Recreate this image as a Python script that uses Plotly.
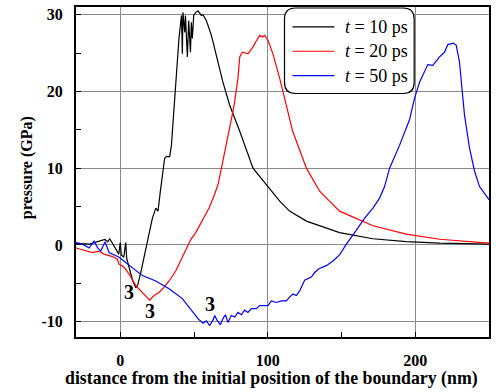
import plotly.graph_objects as go

# ---- data ----
x_10ps = [-30, -20.7, -10.5, -8.5, -7.1, -4.4, -2.4, -1.0, 0.0, 0.7, 2.4, 3.7, 4.4, 6.4, 8.5, 10.5,
          11.9, 13.9, 15.9, 18.2, 21.8, 24.1, 25.6, 27.2, 30.1, 31.3, 33.5, 34.7, 35.8, 37.0, 38.5,
          39.8, 41.5, 42.1, 42.5, 43.7, 44.2, 45.5, 46.4, 47.6, 48.2, 48.9, 49.8, 51.2, 52.7, 55.0,
          56.1, 58.4, 61.8, 65.2, 69.6, 74.2, 78.7, 81.0, 90.0, 100.8, 108.1, 114.8, 126.2, 148.7,
          171.3, 193.9, 216.5, 250]
p_10ps = [0.2, 0.1, 0.7, 0.4, 0.8, -0.1, -0.8, -1.2, 0.3, -1.3, -1.6, 0.3, -1.8, -3.1, -4.7, -5.6,
          -5.2, -3.6, -1.8, 0.0, 3.5, 4.8, 4.4, 7.0, 11.3, 11.5, 11.5, 13.0, 16.0, 20.0, 24.7,
          26.9, 29.9, 24.9, 30.3, 27.7, 29.9, 24.5, 29.2, 25.1, 29.0, 26.9, 29.9, 30.3, 30.5, 29.9,
          30.0, 29.2, 27.3, 24.7, 21.2, 18.2, 16.0, 14.8, 10.0, 7.4, 5.7, 4.4, 3.1, 1.6,
          0.8, 0.43, 0.22, 0.1]

x_20ps = [-30, -24.5, -18.8, -14.4, -11.0, -7.6, -4.2, -1.9, -0.8, 2.6, 6.0, 10.5, 15.0, 18.4, 20.0,
          22.9, 26.3, 29.7, 33.1, 37.6, 42.1, 45.5, 47.8, 51.2, 55.7, 60.2, 64.0, 66.3, 68.6, 70.8,
          73.7, 76.4, 77.6, 79.8, 81.0, 82.8, 86.6, 90.0, 92.3, 94.6, 96.3, 97.9, 100.1, 103.5,
          108.1, 112.6, 116.9, 126.2, 135.2, 141.9, 148.7, 171.3, 193.9, 216.5, 250]
p_20ps = [-0.4, -0.7, -1.0, -0.8, -1.2, -1.4, -1.6, -1.9, -2.5, -2.9, -3.8, -5.3, -6.2, -6.8, -7.2,
          -6.6, -6.2, -5.5, -4.7, -3.4, -1.6, -0.1, 0.7, 1.6, 3.3, 4.8, 6.6, 7.9, 10.0, 12.0,
          14.8, 17.4, 18.7, 21.7, 24.5, 25.1, 24.9, 25.8, 26.6, 27.3, 27.1, 27.3, 26.7, 24.9,
          21.7, 18.2, 14.8, 10.0, 7.0, 5.7, 4.4, 2.5, 1.4, 0.74, 0.22]

x_50ps = [-30, -25.6, -21.1, -17.8, -15.4, -13.2, -10.3, -7.6, -0.8, 3.7, 10.5, 15.0, 24.1, 33.1,
          42.1, 44.9, 49.3, 52.7, 56.1, 58.4, 60.6, 62.9, 64.0, 65.6, 67.9, 69.6, 71.3, 73.0, 75.3,
          77.6, 79.8, 82.1, 84.3, 86.6, 88.9, 92.3, 94.5, 97.9, 100.1, 102.4, 105.8, 109.2, 112.6,
          114.8, 117.1, 119.4, 121.6, 125.0, 127.2, 129.5, 131.8, 134.7, 139.7, 144.2, 148.7, 153.3,
          158.9, 165.7, 171.3, 175.8, 179.2, 182.6, 189.4, 196.1, 199.5, 202.9, 208.5, 211.9, 216.5,
          219.8, 222.1, 225.9, 227.8, 230.0, 233.4, 236.8, 240.2, 243.6, 250]
p_50ps = [0.3, 0.1, -0.4, 0.5, -0.35, -0.8, 0.4, -1.0, -1.6, -2.3, -3.4, -4.0, -4.7, -5.7,
          -7.0, -7.7, -8.8, -9.6, -10.2, -9.9, -10.5, -9.8, -9.2, -9.8, -10.4, -9.6, -9.1, -10.1, -9.2,
          -9.4, -8.8, -9.1, -8.5, -8.8, -8.3, -8.3, -7.9, -7.9, -7.9, -7.3, -7.5, -7.3, -7.3,
          -6.8, -6.4, -6.6, -6.0, -4.6, -4.4, -4.2, -3.6, -3.1, -2.7, -2.1, -1.3, 0.1,
          1.6, 3.5, 4.8, 6.1, 7.6, 10.0, 13.0, 16.3, 19.1, 21.2, 23.5, 23.4, 24.5,
          25.1, 26.1, 26.3, 26.0, 23.8, 16.9, 12.6, 9.6, 7.6, 5.9]

series_names = ["<i>t</i> = 10 ps", "<i>t</i> = 20 ps", "<i>t</i> = 50 ps"]
series_colors = ["black", "red", "blue"]

x_tickvals = [0, 100, 200]
x_ticktext = ["0", "100", "200"]
y_tickvals = [-10, 0, 10, 20, 30]
y_ticktext = ["-10", "0", "10", "20", "30"]

x_title = "distance from the initial position of the boundary (nm)"
y_title = "pressure (GPa)"

label_x = [5.8, 20.0, 60.6]
label_y = [-6.1, -8.55, -7.7]
label_text = ["3", "3", "3"]

SERIF = "Liberation Serif, Times New Roman, serif"

# plot-area geometry in page pixels (used for hand-placed legend and titles)
L, T, W, H = 76, 5, 414, 332
def px(v): return (v - L) / W
def py(v): return 1 - (v - T) / H

fig = go.Figure()
for xs, ys, name, col in zip([x_10ps, x_20ps, x_50ps], [p_10ps, p_20ps, p_50ps],
                             series_names, series_colors):
    fig.add_trace(go.Scatter(x=xs, y=ys, mode="lines", name=name,
                             line=dict(color=col, width=1.2), showlegend=False,
                             hoverinfo="skip"))

for lx, ly, lt in zip(label_x, label_y, label_text):
    fig.add_annotation(x=lx, y=ly, text="<b>%s</b>" % lt, showarrow=False,
                       font=dict(family=SERIF, size=20, color="black"))

# rounded legend frame
x0, x1, y0, y1, r = 285, 415, 6, 92, 11
path = (f"M {px(x0+r)},{py(y0)} L {px(x1-r)},{py(y0)} "
        f"Q {px(x1)},{py(y0)} {px(x1)},{py(y0+r)} L {px(x1)},{py(y1-r)} "
        f"Q {px(x1)},{py(y1)} {px(x1-r)},{py(y1)} L {px(x0+r)},{py(y1)} "
        f"Q {px(x0)},{py(y1)} {px(x0)},{py(y1-r)} L {px(x0)},{py(y0+r)} "
        f"Q {px(x0)},{py(y0)} {px(x0+r)},{py(y0)} Z")
fig.add_shape(type="path", path=path, xref="paper", yref="paper",
              fillcolor="white", line=dict(color="black", width=1.2), layer="above")

# legend entries
row_y = [25, 49.5, 74]
for ry, name, col in zip(row_y, series_names, series_colors):
    fig.add_shape(type="line", xref="paper", yref="paper",
                  x0=px(293), x1=px(335), y0=py(ry), y1=py(ry),
                  line=dict(color=col, width=1.2), layer="above")
    fig.add_annotation(xref="paper", yref="paper", x=px(344), y=py(ry),
                       xanchor="left", yanchor="middle", text=name, showarrow=False,
                       font=dict(family=SERIF, size=18, color="black"))

# axis titles
fig.add_annotation(xref="paper", yref="paper", x=px(271.5), y=py(378.5),
                   xanchor="center", yanchor="middle", showarrow=False,
                   text="<b>%s</b>" % x_title,
                   font=dict(family=SERIF, size=17.8, color="black"))
fig.add_annotation(xref="paper", yref="paper", x=px(27), y=py(167),
                   xanchor="center", yanchor="middle", showarrow=False, textangle=-90,
                   text="<b>%s</b>" % y_title,
                   font=dict(family=SERIF, size=16, color="black"))

fig.update_layout(
    width=496, height=392,
    margin=dict(l=76, r=6, t=5, b=55),
    paper_bgcolor="white", plot_bgcolor="white",
    font=dict(family=SERIF, color="black"),
    showlegend=False,
    xaxis=dict(range=[-30, 250], tickvals=x_tickvals, ticktext=x_ticktext,
               showgrid=True, gridcolor="#8a8a8a", gridwidth=1.2,
               showline=True, linecolor="black", linewidth=2, mirror=True,
               ticks="", zeroline=False,
               minor=dict(dtick=50, tick0=0, ticks="inside", ticklen=5,
                          tickcolor="black", tickwidth=1.2, showgrid=False),
               tickfont=dict(family=SERIF, size=16, color="black", weight="bold"),
               ticklabelstandoff=8),
    yaxis=dict(range=[-12, 31], tickvals=y_tickvals, ticktext=y_ticktext,
               showgrid=True, gridcolor="#8a8a8a", gridwidth=1.2,
               showline=True, linecolor="black", linewidth=2, mirror=True,
               ticks="", zeroline=False,
               minor=dict(dtick=5, tick0=0, ticks="inside", ticklen=5,
                          tickcolor="black", tickwidth=1.2, showgrid=False),
               tickfont=dict(family=SERIF, size=16, color="black", weight="bold"),
               ticklabelstandoff=8),
)

fig.write_html("out.html", config={"displayModeBar": False},
               post_script="document.body.style.margin='0';")
